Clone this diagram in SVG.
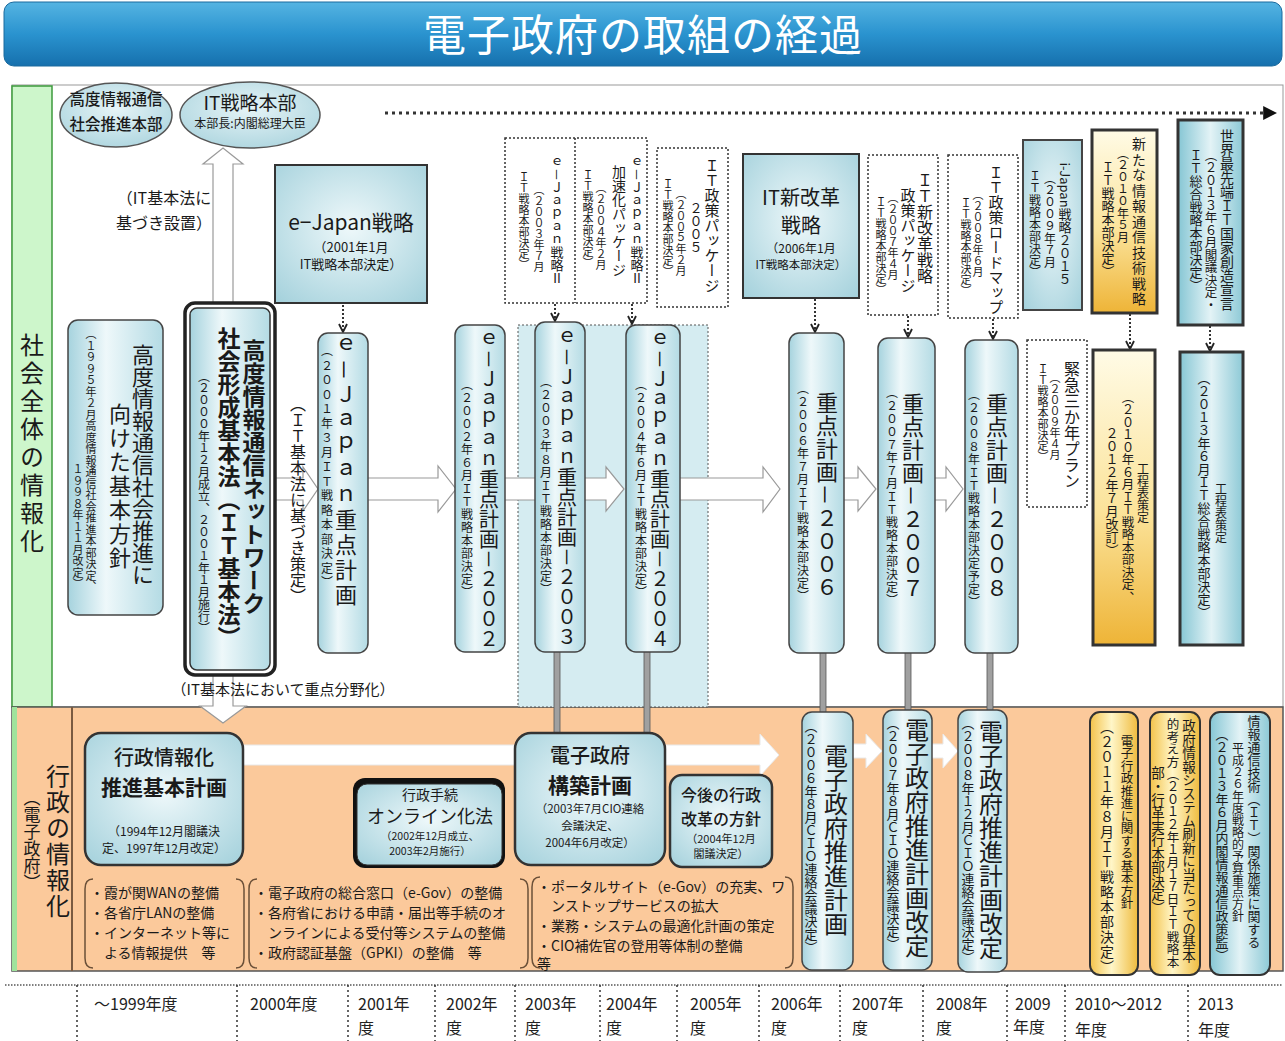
<svg xmlns="http://www.w3.org/2000/svg" width="1285" height="1041" viewBox="0 0 1285 1041">
<defs>
<style>
.j{font-family:"Noto Sans CJK JP","Noto Sans CJK SC",sans-serif;fill:#1a1a1a}
.v{writing-mode:vertical-rl;text-anchor:middle}
.c{text-anchor:middle}
.b{font-weight:bold}
.m{font-weight:500}
.pil{fill:url(#pil);stroke:#444;stroke-width:1.5}
.dot{fill:#fff;stroke:#333;stroke-width:1.5;stroke-dasharray:2 2}
.ha{fill:#fff;stroke:#9a9a9a;stroke-width:1.2}
.wa{fill:#fff;stroke:#e8e8e8;stroke-width:1}
.da{fill:none;stroke:#333;stroke-width:2;stroke-dasharray:2 2;marker-end:url(#vh)}
.gl{fill:#a0a0a0;stroke:#555;stroke-width:0.8}
.sep{stroke:#333;stroke-width:1.5;stroke-dasharray:2 3}
.yr{font-family:"Noto Sans CJK JP",sans-serif;font-size:16px;fill:#222}
.lst{font-size:14px}
</style>
<linearGradient id="hdr" x1="0" y1="0" x2="0" y2="1"><stop offset="0" stop-color="#55b4e2"/><stop offset="0.5" stop-color="#2a93cf"/><stop offset="1" stop-color="#1670ad"/></linearGradient>
<linearGradient id="pil" x1="0" y1="0" x2="1" y2="0"><stop offset="0" stop-color="#a6d3de"/><stop offset="0.4" stop-color="#eef8fa"/><stop offset="1" stop-color="#b4dbe4"/></linearGradient>
<radialGradient id="box" cx="0.5" cy="0.45" r="0.75"><stop offset="0" stop-color="#eef8fa"/><stop offset="1" stop-color="#a2d0db"/></radialGradient>
<linearGradient id="gold" x1="0" y1="0" x2="0" y2="1"><stop offset="0" stop-color="#fffbe6"/><stop offset="0.55" stop-color="#fbe39a"/><stop offset="1" stop-color="#eeb437"/></linearGradient>
<linearGradient id="goldh" x1="0" y1="0" x2="1" y2="0"><stop offset="0" stop-color="#f3c24a"/><stop offset="0.45" stop-color="#fff6c8"/><stop offset="1" stop-color="#efbb3e"/></linearGradient>
<linearGradient id="teal" x1="0" y1="0" x2="1" y2="0"><stop offset="0" stop-color="#86c6d4"/><stop offset="0.5" stop-color="#e3f3f6"/><stop offset="1" stop-color="#8dc9d6"/></linearGradient>
<radialGradient id="ell" cx="0.5" cy="0.4" r="0.7"><stop offset="0" stop-color="#e6f4f7"/><stop offset="1" stop-color="#a9d3dd"/></radialGradient>
<marker id="vh" viewBox="0 0 10 10" refX="9" refY="5" markerWidth="10" markerHeight="10" markerUnits="userSpaceOnUse" orient="auto"><path d="M1,1 L9,5 L1,9" fill="none" stroke="#222" stroke-width="1.8"/></marker>
<marker id="tri" viewBox="0 0 10 10" refX="2" refY="5" markerWidth="14" markerHeight="14" markerUnits="userSpaceOnUse" orient="auto"><path d="M0,0 L10,5 L0,10 Z" fill="#111"/></marker>
</defs>

<rect x="0" y="0" width="1285" height="1041" fill="#fff"/>

<g id="header">
<rect x="4" y="2" width="1278" height="64" rx="10" fill="url(#hdr)" stroke="#1a6a9e"/>
<text x="643" y="51" class="j c" font-size="43" style="fill:#fff" letter-spacing="1">電子政府の取組の経過</text>
</g>

<g id="frames">
<rect x="12" y="85" width="1271" height="622" fill="#fff" stroke="#999"/>
<rect x="12" y="86" width="40" height="621" fill="#cdf6cb" stroke="#3c9a3c" stroke-width="1.5"/>
<text class="j v" x="32" y="445" font-size="24" letter-spacing="4">社会全体の情報化</text>
<rect x="12" y="707" width="1271" height="264" fill="#fbc99b" stroke="#555" stroke-width="1.5"/>
<rect x="12" y="707" width="5" height="264" fill="#9fe39c"/>
<line x1="72" y1="707" x2="72" y2="971" stroke="#7a5a40" stroke-width="2"/>
<text class="j v" x="58" y="842" font-size="24" letter-spacing="2">行政の情報化</text>
<text class="j v" x="32" y="840" font-size="17">（電子政府）</text>
<rect x="518" y="325" width="190" height="382" fill="#d5ecf1" stroke="#555" stroke-dasharray="2 2"/>
</g>

<g id="connectors">
<line x1="385" y1="113" x2="1266" y2="113" stroke="#333" stroke-width="3" stroke-dasharray="3 4" marker-end="url(#tri)"/>
<path class="ha" d="M213,310 L213,164 L203,164 L223,148 L243,164 L233,164 L233,310 Z"/>
<path class="ha" d="M213,670 L213,706 L200,706 L223,723 L246,706 L233,706 L233,670 Z"/>
<path class="ha" d="M270,478 L303,478 L303,467 L318,489 L303,511 L303,500 L270,500 Z"/>
<path class="ha" d="M365,478 L438,478 L438,466 L456,489 L438,512 L438,500 L365,500 Z"/>
<path class="ha" d="M500,478 L540,478 L540,500 L500,500 Z"/>
<path class="ha" d="M582,478 L606,478 L606,467 L624,489 L606,511 L606,500 L582,500 Z"/>
<path class="ha" d="M677,478 L763,478 L763,467 L780,489 L763,512 L763,500 L677,500 Z"/>
<path class="ha" d="M842,478 L858,478 L858,467 L876,489 L858,511 L858,500 L842,500 Z"/>
<path class="ha" d="M932,478 L946,478 L946,467 L963,489 L946,511 L946,500 L932,500 Z"/>
<path class="wa" d="M240,745 L760,745 L760,734 L779,755 L760,776 L760,765 L240,765 Z"/>
<path class="wa" d="M850,744 L866,744 L866,734 L882,751 L866,768 L866,758 L850,758 Z"/>
<path class="wa" d="M931,744 L943,744 L943,734 L958,751 L943,768 L943,758 L931,758 Z"/>
<rect class="gl" x="554" y="650" width="6" height="84"/>
<rect class="gl" x="644" y="650" width="6" height="84"/>
<rect class="gl" x="820" y="650" width="6" height="63"/>
<rect class="gl" x="905" y="651" width="6" height="60"/>
<rect class="gl" x="987" y="651" width="6" height="60"/>
<line class="da" x1="343" y1="305" x2="343" y2="332"/>
<line class="da" x1="555" y1="304" x2="555" y2="321"/>
<line class="da" x1="632" y1="304" x2="632" y2="324"/>
<line class="da" x1="815" y1="299" x2="815" y2="332"/>
<line class="da" x1="908" y1="316" x2="908" y2="337"/>
<line class="da" x1="993" y1="319" x2="993" y2="339"/>
<line class="da" x1="1130" y1="314" x2="1130" y2="349"/>
<line class="da" x1="1210" y1="326" x2="1210" y2="351"/>
<text class="j c" x="164" y="204" font-size="16">（IT基本法に</text>
<text class="j c" x="164" y="229" font-size="16">基づき設置）</text>
<text class="j v" x="298" y="500" font-size="16">（ＩＴ基本法に基づき策定）</text>
<text class="j c" x="283" y="695" font-size="15">（IT基本法において重点分野化）</text>
</g>

<g id="n-kodo-honbu">
<ellipse cx="116" cy="115" rx="56" ry="32" fill="url(#ell)" stroke="#555" stroke-width="1.5"/>
<text class="j c m" x="116" y="105" font-size="15.5">高度情報通信</text>
<text class="j c m" x="116" y="130" font-size="15.5">社会推進本部</text>
</g>
<g id="n-it-honbu">
<ellipse cx="250" cy="115" rx="70" ry="33" fill="url(#ell)" stroke="#555" stroke-width="1.5"/>
<text class="j c" x="250" y="110" font-size="19">IT戦略本部</text>
<text class="j c" x="250" y="128" font-size="12">本部長:内閣総理大臣</text>
</g>

<g id="n-ejapan-senryaku">
<rect x="275" y="165" width="152" height="138" fill="url(#box)" stroke="#333" stroke-width="2"/>
<text class="j c" x="351" y="230" font-size="21">e−Japan戦略</text>
<text class="j c" x="351" y="252" font-size="13">（2001年1月</text>
<text class="j c" x="351" y="269" font-size="13">IT戦略本部決定）</text>
</g>

<g id="n-kihonhoushin">
<rect class="pil" x="68" y="320" width="95" height="295" rx="10"/>
<text class="j v" x="143" y="465" font-size="22">高度情報通信社会推進に</text>
<text class="j v" x="120" y="487" font-size="22" letter-spacing="2">向けた基本方針</text>
<text class="j v" x="91" y="461" font-size="11" letter-spacing="0.5">（１９９５年２月高度情報通信社会推進本部決定、</text>
<text class="j v" x="78" y="527" font-size="11" letter-spacing="0.5">１９９８年１１月改定）</text>
</g>

<g id="n-it-kihonhou">
<rect x="185" y="303" width="90" height="372" rx="10" fill="#fff" stroke="#222" stroke-width="3.5"/>
<rect x="190" y="308" width="80" height="362" rx="7" fill="url(#pil)" stroke="#333" stroke-width="1.5"/>
<text class="j v b" x="254" y="477" font-size="23">高度情報通信ネットワーク</text>
<text class="j v b" x="229" y="488" font-size="23">社会形成基本法（ＩＴ基本法）</text>
<text class="j v" x="204" y="502" font-size="12">（２０００年１２月成立、２００１年１月施行）</text>
</g>

<g id="n-ejapan-juten">
<rect class="pil" x="318" y="333" width="50" height="320" rx="10"/>
<text class="j v" x="346" y="471" font-size="22" letter-spacing="3">ｅ－Ｊａｐａｎ重点計画</text>
<text class="j v" x="327" y="468" font-size="12" letter-spacing="2.5">（２００１年３月ＩＴ戦略本部決定）</text>
</g>

<g id="n-juten-2002">
<rect class="pil" x="455" y="325" width="50" height="327" rx="10"/>
<text class="j v" x="489" y="489" font-size="20">ｅ－Ｊａｐａｎ重点計画－２００２</text>
<text class="j v" x="467" y="489" font-size="12" letter-spacing="1">（２００２年６月ＩＴ戦略本部決定）</text>
</g>
<g id="n-juten-2003">
<rect class="pil" x="535" y="322" width="50" height="330" rx="10"/>
<text class="j v" x="567" y="487" font-size="20">ｅ－Ｊａｐａｎ重点計画－２００３</text>
<text class="j v" x="546" y="486" font-size="12" letter-spacing="1">（２００３年８月ＩＴ戦略本部決定）</text>
</g>
<g id="n-juten-2004">
<rect class="pil" x="626" y="325" width="54" height="327" rx="10"/>
<text class="j v" x="660" y="489" font-size="20">ｅ－Ｊａｐａｎ重点計画－２００４</text>
<text class="j v" x="641" y="489" font-size="12" letter-spacing="1">（２００４年６月ＩＴ戦略本部決定）</text>
</g>
<g id="n-juten-2006">
<rect class="pil" x="789" y="333" width="55" height="320" rx="10"/>
<text class="j v" x="827" y="495" font-size="22" letter-spacing="1">重点計画－２００６</text>
<text class="j v" x="803" y="493" font-size="12" letter-spacing="1">（２００６年７月ＩＴ戦略本部決定）</text>
</g>
<g id="n-juten-2007">
<rect class="pil" x="878" y="338" width="57" height="315" rx="10"/>
<text class="j v" x="913" y="496" font-size="22" letter-spacing="1">重点計画－２００７</text>
<text class="j v" x="892" y="497" font-size="12" letter-spacing="1">（２００７年７月ＩＴ戦略本部決定）</text>
</g>
<g id="n-juten-2008">
<rect class="pil" x="965" y="340" width="53" height="313" rx="10"/>
<text class="j v" x="997" y="496" font-size="22" letter-spacing="1">重点計画－２００８</text>
<text class="j v" x="974" y="499" font-size="12" letter-spacing="1">（２００８年ＩＴ戦略本部決定予定）</text>
</g>

<g id="n-ejapan2">
<rect class="dot" x="505" y="138" width="142" height="165"/>
<line x1="575" y1="138" x2="575" y2="303" stroke="#333" stroke-width="1.5" stroke-dasharray="2 2"/>
<text class="j v" x="557" y="220" font-size="13">ｅ－Ｊａｐａｎ戦略Ⅱ</text>
<text class="j v" x="539" y="228" font-size="11">（２００３年７月</text>
<text class="j v" x="524" y="221" font-size="11">ＩＴ戦略本部決定）</text>
<text class="j v" x="637" y="220" font-size="13">ｅ－Ｊａｐａｎ戦略Ⅱ</text>
<text class="j v" x="619" y="221" font-size="14">加速化パッケージ</text>
<text class="j v" x="601" y="226" font-size="11">（２００４年２月</text>
<text class="j v" x="588" y="219" font-size="11">ＩＴ戦略本部決定）</text>
</g>

<g id="n-it-package-2005">
<rect class="dot" x="657" y="148" width="71" height="159"/>
<text class="j v" x="712" y="225" font-size="15">ＩＴ政策パッケージ</text>
<text class="j v" x="696" y="228" font-size="13">２００５</text>
<text class="j v" x="681" y="232" font-size="11">（２００５年２月</text>
<text class="j v" x="668" y="228" font-size="11">ＩＴ戦略本部決定）</text>
</g>

<g id="n-it-shinkaikaku">
<rect x="743" y="154" width="116" height="144" fill="url(#box)" stroke="#333" stroke-width="2"/>
<text class="j c" x="801" y="205" font-size="20">IT新改革</text>
<text class="j c" x="801" y="233" font-size="20">戦略</text>
<text class="j c" x="801" y="253" font-size="12">（2006年1月</text>
<text class="j c" x="801" y="269" font-size="11.5">IT戦略本部決定）</text>
</g>

<g id="n-seisaku-package">
<rect class="dot" x="868" y="155" width="70" height="160"/>
<text class="j v" x="925" y="228" font-size="16">ＩＴ新改革戦略</text>
<text class="j v" x="908" y="240" font-size="15">政策パッケージ</text>
<text class="j v" x="893" y="236" font-size="11">（２００７年４月</text>
<text class="j v" x="881" y="246" font-size="11">ＩＴ戦略本部決定）</text>
</g>

<g id="n-roadmap">
<rect class="dot" x="948" y="155" width="70" height="163"/>
<text class="j v" x="996" y="240" font-size="15">ＩＴ政策ロードマップ</text>
<text class="j v" x="978" y="233" font-size="11">（２００８年６月</text>
<text class="j v" x="966" y="247" font-size="11">ＩＴ戦略本部決定）</text>
</g>

<g id="n-ijapan">
<rect x="1023" y="140" width="59" height="170" fill="url(#box)" stroke="#444" stroke-width="2"/>
<text class="j v" x="1065" y="224" font-size="13">i-Japan戦略２０１５</text>
<text class="j v" x="1050" y="220" font-size="12">（２００９年７月</text>
<text class="j v" x="1035" y="224" font-size="12">ＩＴ戦略本部決定）</text>
</g>

<g id="n-aratana">
<rect x="1092" y="130" width="65" height="183" fill="url(#gold)" stroke="#333" stroke-width="3"/>
<text class="j v" x="1139" y="222" font-size="14" letter-spacing="1.5">新たな情報通信技術戦略</text>
<text class="j v" x="1123" y="195" font-size="12">（２０１０年５月</text>
<text class="j v" x="1108" y="219" font-size="13">ＩＴ戦略本部決定）</text>
</g>

<g id="n-sekai">
<rect x="1178" y="120" width="65" height="205" fill="url(#teal)" stroke="#333" stroke-width="3"/>
<text class="j v" x="1227" y="220" font-size="14">世界最先端ＩＴ国家創造宣言</text>
<text class="j v" x="1211" y="230" font-size="12.5">（２０１３年６月閣議決定・</text>
<text class="j v" x="1196" y="220" font-size="13">ＩＴ総合戦略本部決定）</text>
</g>

<g id="n-kinkyu">
<rect class="dot" x="1027" y="340" width="60" height="167"/>
<text class="j v" x="1072" y="425" font-size="16">緊急三か年プラン</text>
<text class="j v" x="1055" y="416" font-size="11">（２００９年４月</text>
<text class="j v" x="1043" y="413" font-size="11">ＩＴ戦略本部決定）</text>
</g>

<g id="n-koteihyo-2010">
<rect x="1093" y="350" width="62" height="295" fill="url(#gold)" stroke="#333" stroke-width="3"/>
<text class="j v" x="1143" y="493" font-size="12">工程表策定</text>
<text class="j v" x="1128" y="497" font-size="12.5">（２０１０年６月ＩＴ戦略本部決定、</text>
<text class="j v" x="1112" y="492" font-size="13">２０１２年７月改訂）</text>
</g>

<g id="n-koteihyo-2013">
<rect x="1180" y="352" width="63" height="293" fill="url(#teal)" stroke="#333" stroke-width="3"/>
<text class="j v" x="1221" y="513" font-size="12">工程表策定</text>
<text class="j v" x="1204" y="495" font-size="13">（２０１３年６月ＩＴ総合戦略本部決定）</text>
</g>

<g id="n-gyosei-keikaku">
<rect x="85" y="733" width="158" height="132" rx="16" fill="url(#box)" stroke="#333" stroke-width="2.5"/>
<text class="j c m" x="164" y="765" font-size="20">行政情報化</text>
<text class="j c b" x="164" y="795" font-size="21">推進基本計画</text>
<text class="j c" x="164" y="836" font-size="12">（1994年12月閣議決</text>
<text class="j c" x="164" y="853" font-size="12">定、1997年12月改定）</text>
</g>

<g id="n-online-hou">
<rect x="353" y="778" width="152" height="90" rx="12" fill="#111"/>
<rect x="357" y="784" width="145" height="81" rx="10" fill="url(#box)" stroke="#333"/>
<text class="j c" x="430" y="800" font-size="14">行政手続</text>
<text class="j c" x="430" y="823" font-size="18">オンライン化法</text>
<text class="j c" x="430" y="840" font-size="10.5">（2002年12月成立、</text>
<text class="j c" x="430" y="855" font-size="10.5">2003年2月施行）</text>
</g>

<g id="n-kochiku-keikaku">
<rect x="515" y="733" width="150" height="132" rx="16" fill="url(#box)" stroke="#333" stroke-width="2.5"/>
<text class="j c m" x="590" y="763" font-size="20">電子政府</text>
<text class="j c b" x="590" y="793" font-size="21">構築計画</text>
<text class="j c" x="590" y="813" font-size="11.5">（2003年7月CIO連絡</text>
<text class="j c" x="590" y="830" font-size="11.5">会議決定、</text>
<text class="j c" x="590" y="847" font-size="11.5">2004年6月改定）</text>
</g>

<g id="n-kongo">
<rect x="670" y="775" width="102" height="92" rx="12" fill="url(#box)" stroke="#333" stroke-width="2.5"/>
<text class="j c m" x="721" y="801" font-size="16">今後の行政</text>
<text class="j c m" x="721" y="825" font-size="16">改革の方針</text>
<text class="j c" x="721" y="843" font-size="11">（2004年12月</text>
<text class="j c" x="721" y="858" font-size="11">閣議決定）</text>
</g>

<g id="n-list1">
<path d="M93,879 Q85,879 85,889 L85,958 Q85,968 93,968" fill="none" stroke="#6b5038" stroke-width="1.5"/>
<path d="M236,879 Q244,879 244,889 L244,958 Q244,968 236,968" fill="none" stroke="#6b5038" stroke-width="1.5"/>
<text class="j lst" x="90" y="898">・霞が関WANの整備</text>
<text class="j lst" x="90" y="918">・各省庁LANの整備</text>
<text class="j lst" x="90" y="938">・インターネット等に</text>
<text class="j lst" x="90" y="958">　よる情報提供　等</text>
</g>

<g id="n-list2">
<path d="M257,879 Q249,879 249,889 L249,958 Q249,968 257,968" fill="none" stroke="#6b5038" stroke-width="1.5"/>
<path d="M520,879 Q528,879 528,889 L528,958 Q528,968 520,968" fill="none" stroke="#6b5038" stroke-width="1.5"/>
<text class="j lst" x="254" y="898">・電子政府の総合窓口（e-Gov）の整備</text>
<text class="j lst" x="254" y="918">・各府省における申請・届出等手続のオ</text>
<text class="j lst" x="254" y="938">　ンラインによる受付等システムの整備</text>
<text class="j lst" x="254" y="958">・政府認証基盤（GPKI）の整備　等</text>
</g>

<g id="n-list3">
<path d="M540,877 Q532,877 532,887 L532,958 Q532,968 540,968" fill="none" stroke="#6b5038" stroke-width="1.5"/>
<path d="M785,877 Q793,877 793,887 L793,958 Q793,968 785,968" fill="none" stroke="#6b5038" stroke-width="1.5"/>
<text class="j lst" x="537" y="892">・ポータルサイト（e-Gov）の充実、ワ</text>
<text class="j lst" x="537" y="911">　ンストップサービスの拡大</text>
<text class="j lst" x="537" y="931">・業務・システムの最適化計画の策定</text>
<text class="j lst" x="537" y="951">・CIO補佐官の登用等体制の整備</text>
<text class="j lst" x="537" y="969">等</text>
</g>

<g id="n-suishin-2006">
<rect class="pil" x="802" y="712" width="51" height="258" rx="10"/>
<text class="j v" x="836" y="840" font-size="24">電子政府推進計画</text>
<text class="j v" x="811" y="837" font-size="13">（２００６年８月ＣＩＯ連絡会議決定）</text>
</g>
<g id="n-suishin-2007">
<rect class="pil" x="883" y="710" width="49" height="260" rx="10"/>
<text class="j v" x="917" y="838" font-size="24">電子政府推進計画改定</text>
<text class="j v" x="893" y="834" font-size="13">（２００７年８月ＣＩＯ連絡会議決定）</text>
</g>
<g id="n-suishin-2008">
<rect class="pil" x="958" y="710" width="49" height="262" rx="10"/>
<text class="j v" x="991" y="840" font-size="24">電子政府推進計画改定</text>
<text class="j v" x="968" y="840" font-size="13">（２００８年１２月ＣＩＯ連絡会議決定）</text>
</g>
<g id="n-kihon-2011">
<rect x="1090" y="712" width="48" height="263" rx="10" fill="url(#goldh)" stroke="#333" stroke-width="2"/>
<text class="j v" x="1127" y="822" font-size="12.5">電子行政推進に関する基本方針</text>
<text class="j v" x="1107" y="847" font-size="14" letter-spacing="1">（２０１１年８月ＩＴ戦略本部決定）</text>
</g>
<g id="n-sasshin-2012">
<rect x="1150" y="712" width="50" height="263" rx="10" fill="url(#goldh)" stroke="#333" stroke-width="2"/>
<text class="j v" x="1189" y="841" font-size="13.5">政府情報システム刷新に当たっての基本</text>
<text class="j v" x="1173" y="843" font-size="12.5">的考え方（２０１２年１月１７日ＩＴ戦略本</text>
<text class="j v" x="1158" y="840" font-size="13.5">部・行革実行本部決定）</text>
</g>
<g id="n-yosan-2013">
<rect x="1210" y="712" width="60" height="263" rx="10" fill="url(#teal)" stroke="#333" stroke-width="2"/>
<text class="j v" x="1254" y="832" font-size="13">情報通信技術（ＩＴ）関係施策に関する</text>
<text class="j v" x="1238" y="832" font-size="12">平成２６年度戦略的予算重点方針</text>
<text class="j v" x="1222" y="845" font-size="13">（２０１３年６月内閣情報通信政策監）</text>
</g>

<g id="axis">
<line x1="5" y1="985" x2="1282" y2="985" stroke="#555" stroke-width="1.5" stroke-dasharray="1.5 1.5"/>
<line class="sep" x1="77" y1="985" x2="77" y2="1041"/>
<line class="sep" x1="237" y1="985" x2="237" y2="1041"/>
<line class="sep" x1="348" y1="985" x2="348" y2="1041"/>
<line class="sep" x1="435" y1="985" x2="435" y2="1041"/>
<line class="sep" x1="515" y1="985" x2="515" y2="1041"/>
<line class="sep" x1="600" y1="985" x2="600" y2="1041"/>
<line class="sep" x1="677" y1="985" x2="677" y2="1041"/>
<line class="sep" x1="759" y1="985" x2="759" y2="1041"/>
<line class="sep" x1="840" y1="985" x2="840" y2="1041"/>
<line class="sep" x1="923" y1="985" x2="923" y2="1041"/>
<line class="sep" x1="1007" y1="985" x2="1007" y2="1041"/>
<line class="sep" x1="1065" y1="985" x2="1065" y2="1041"/>
<line class="sep" x1="1188" y1="985" x2="1188" y2="1041"/>
<text class="yr" x="94" y="1010">～1999年度</text>
<text class="yr" x="250" y="1010">2000年度</text>
<text class="yr" x="358" y="1010">2001年</text><text class="yr" x="358" y="1034">度</text>
<text class="yr" x="446" y="1010">2002年</text><text class="yr" x="446" y="1034">度</text>
<text class="yr" x="525" y="1010">2003年</text><text class="yr" x="525" y="1034">度</text>
<text class="yr" x="606" y="1010">2004年</text><text class="yr" x="606" y="1034">度</text>
<text class="yr" x="690" y="1010">2005年</text><text class="yr" x="690" y="1034">度</text>
<text class="yr" x="771" y="1010">2006年</text><text class="yr" x="771" y="1034">度</text>
<text class="yr" x="852" y="1010">2007年</text><text class="yr" x="852" y="1034">度</text>
<text class="yr" x="936" y="1010">2008年</text><text class="yr" x="936" y="1034">度</text>
<text class="yr" x="1015" y="1010">2009</text><text class="yr" x="1013" y="1033">年度</text>
<text class="yr" x="1075" y="1010">2010～2012</text><text class="yr" x="1075" y="1036">年度</text>
<text class="yr" x="1198" y="1010">2013</text><text class="yr" x="1198" y="1036">年度</text>
</g>
</svg>
